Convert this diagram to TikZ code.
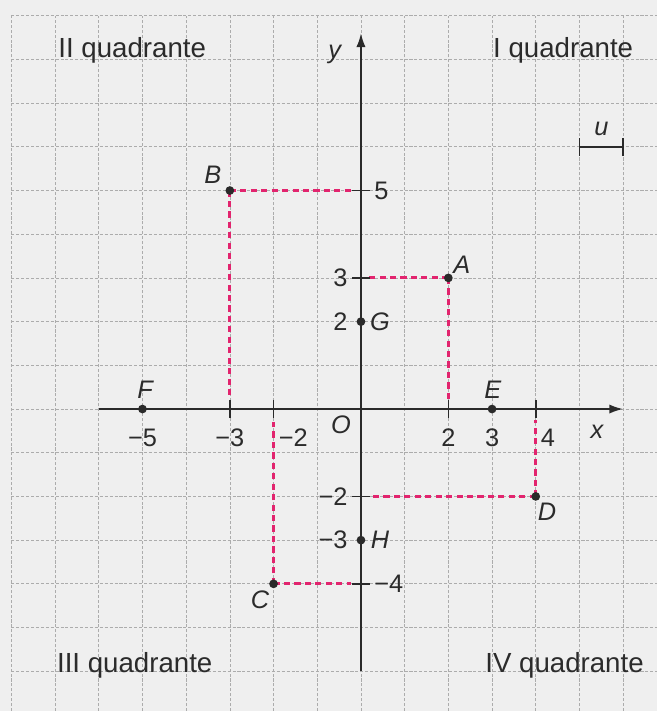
\documentclass[tikz,border=0pt]{standalone}
\usepackage{fontspec}
\setmainfont{Liberation Sans}
\usetikzlibrary{arrows.meta}
\definecolor{bg}{HTML}{EFEFEF}
\definecolor{axc}{HTML}{2A2A2A}
\definecolor{txt}{HTML}{2B2B2B}
\definecolor{mag}{HTML}{E2246E}
\begin{document}
\begin{tikzpicture}[x=1cm,y=1cm,
  grd/.style={gray!65, line width=0.45pt, dash pattern=on 2pt off 1.2pt},
  axis/.style={line width=1.2pt, draw=axc, -{Latex[length=9pt,width=6pt]}},
  tickmark/.style={line width=1pt, draw=axc},
  proj/.style={draw=mag, line width=1.9pt, dash pattern=on 4pt off 2.8pt},
  pt/.style={circle, fill=axc, inner sep=0pt, minimum size=0.2cm},
  num/.style={font=\fontsize{16.5}{18}\selectfont, text=txt, inner sep=0pt},
  lab/.style={font=\fontsize{16.5}{19}\selectfont\itshape, text=txt, inner sep=0pt},
  quad/.style={font=\fontsize{18}{20}\selectfont, text=txt, inner sep=0pt, anchor=base west}]
\fill[bg] (-8.26,-6.91) rectangle (6.77,9.36);
\useasboundingbox (-8.26,-6.91) rectangle (6.77,9.36);
% grid
\foreach \i in {-8,...,6} \draw[grd] (\i,-6.91) -- (\i,9);
\foreach \j in {-6,...,9} \draw[grd] (-8,\j) -- (6.77,\j);
% quadrant labels
\node[quad] (q2) at (-6.93,8.05) {II quadrante};
\node[quad] (q1) at (3.02,8.05) {I quadrante};
\node[quad] (q3) at (-6.96,-6.02) {III quadrante};
\node[quad] (q4) at (2.84,-6.02) {IV quadrante};
% unit segment
\coordinate (u1) at (5,6);
\coordinate (u2) at (6,6);
\draw[tickmark] (u1) -- (u2);
\draw[tickmark] ([yshift=-0.2cm]u1) -- ([yshift=0.2cm]u1);
\draw[tickmark] ([yshift=-0.2cm]u2) -- ([yshift=0.2cm]u2);
\node[lab] (u) at (5.5,6.42) {u};
% projection lines
\coordinate (Ax) at (2,0.2);   \coordinate (Ay) at (0.15,3);
\coordinate (Bx) at (-3,0.3);  \coordinate (By) at (-0.22,5);
\coordinate (Cx) at (-2,-0.3); \coordinate (Cy) at (-0.22,-4);
\coordinate (Dx) at (4,-0.25); \coordinate (Dy) at (0.2,-2);
\draw[proj] (2,3) -- (Ax);  \draw[proj] (2,3) -- (Ay);
\draw[proj] (-3,5) -- (Bx); \draw[proj] (-3,5) -- (By);
\draw[proj] (-2,-4) -- (Cx); \draw[proj] (-2,-4) -- (Cy);
\draw[proj] (4,-2) -- (Dx); \draw[proj] (4,-2) -- (Dy);
% axes
\coordinate (xs) at (-6,0); \coordinate (xe) at (6,0);
\coordinate (ys) at (0,-6); \coordinate (ye) at (0,8.6);
\draw[axis] (xs) -- (xe);
\draw[axis] (ys) -- (ye);
% ticks
\foreach \t in {-3,-2,2,4} \draw[tickmark] (\t,-0.2) -- (\t,0.2);
\foreach \t in {5,3,-2,-4} \draw[tickmark] (-0.2,\t) -- (0.2,\t);
% points
\node[pt] (A) at (2,3) {};
\node[pt] (B) at (-3,5) {};
\node[pt] (C) at (-2,-4) {};
\node[pt] (D) at (4,-2) {};
\node[pt] (E) at (3,0) {};
\node[pt] (F) at (-5,0) {};
\node[pt] (G) at (0,2) {};
\node[pt] (H) at (0,-3) {};
% point labels
\node[lab] (lA) at (2.31,3.3) {A};
\node[lab] (lB) at (-3.39,5.35) {B};
\node[lab] (lC) at (-2.31,-4.37) {C};
\node[lab] (lD) at (4.26,-2.36) {D};
\node[lab] (lE) at (3.02,0.43) {E};
\node[lab] (lF) at (-4.94,0.43) {F};
\node[lab,anchor=west] (lG) at (0.2,2) {G};
\node[lab,anchor=west] (lH) at (0.22,-3) {H};
\node[lab] (lO) at (-0.46,-0.37) {O};
\node[lab] (lx) at (5.4,-0.53) {x};
\node[lab] (ly) at (-0.6,8.12) {y};
% numbers
\node[num] (nm5) at (-5,-0.65) {−5};
\node[num] (nm3) at (-3,-0.65) {−3};
\node[num] (nm2) at (-1.55,-0.65) {−2};
\node[num] (n2) at (2,-0.65) {2};
\node[num] (n3) at (3,-0.65) {3};
\node[num] (n4) at (4.28,-0.65) {4};
\node[num,anchor=west] (y5) at (0.3,5) {5};
\node[num,anchor=east] (y3) at (-0.3,3) {3};
\node[num,anchor=east] (y2) at (-0.3,2) {2};
\node[num,anchor=east] (ym2) at (-0.3,-2) {−2};
\node[num,anchor=east] (ym3) at (-0.3,-3) {−3};
\node[num,anchor=west] (ym4) at (0.3,-4) {−4};
\end{tikzpicture}
\end{document}
